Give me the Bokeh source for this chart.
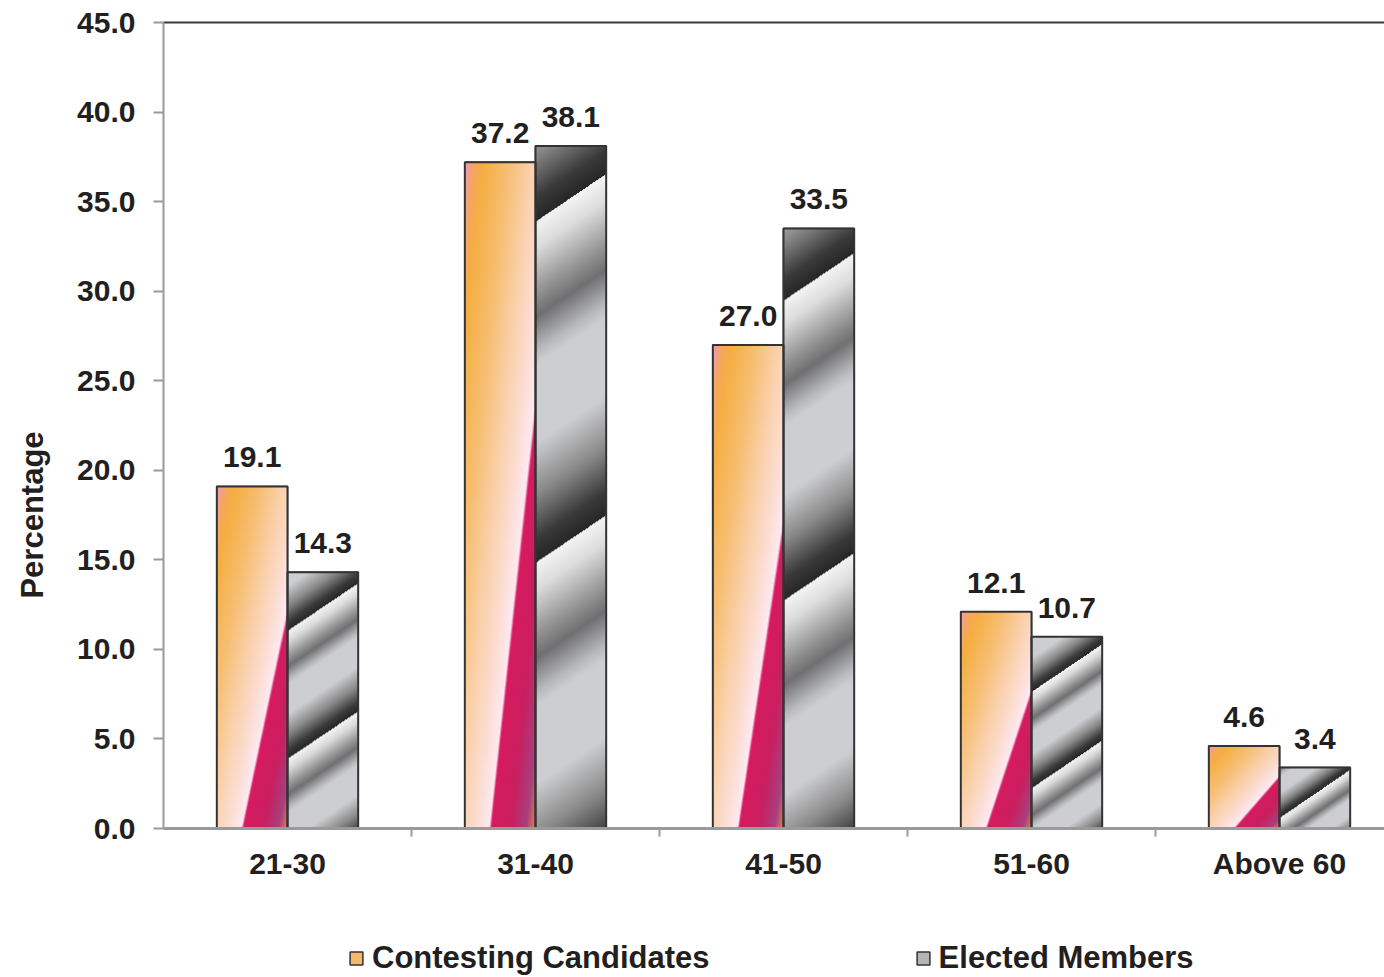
import numpy as np
from bokeh.plotting import figure
from bokeh.layouts import column, row
from bokeh.models import (Range1d, FixedTicker, NumeralTickFormatter, LinearAxis,
                          Legend, LegendItem, Label, ColumnDataSource)
from bokeh.core.properties import value
from bokeh.embed import file_html
from bokeh.resources import INLINE

# ---------------- data ----------------
categories = ["21-30", "31-40", "41-50", "51-60", "Above 60"]
contesting = [19.1, 37.2, 27.0, 12.1, 4.6]
elected = [14.3, 38.1, 33.5, 10.7, 3.4]
y_ticks = [0, 5, 10, 15, 20, 25, 30, 35, 40, 45]
series_names = ["Contesting Candidates", "Elected Members"]
y_title = "Percentage"

# ---------------- layout / style ----------------
FONT = "Liberation Sans"
TXT = "#231F20"
TOTAL_W, TOTAL_H = 1384, 977
TITLE_W = 60           # left strip holding the y title
LEG_H = 77             # bottom strip holding the legend
W, H = TOTAL_W - TITLE_W, TOTAL_H - LEG_H
ML, MR, MT = 163 - TITLE_W, 0, 22
MB = H - 828
frame_w = W - ML - MR
frame_h = H - MT - MB
cat_px = 248.0
x_end = frame_w / cat_px
y_max = 45.0
bar_w = 0.285

xc = np.arange(len(categories)) + 0.5

CONT_COLOR = "#F6B86C"
ELEC_COLOR = "#B4B5B8"
EDGE = "#333333"


def hex2rgb(h):
    return [int(h[i:i + 2], 16) for i in (1, 3, 5)]


def ramp(t, stops):
    pos = np.array([s[0] for s in stops])
    cols = np.array([hex2rgb(s[1]) for s in stops], float)
    out = np.empty(t.shape + (3,))
    for c in range(3):
        out[..., c] = np.interp(t, pos, cols[:, c])
    return out


def to_rgba(rgb):
    ny, nx, _ = rgb.shape
    img = np.empty((ny, nx), dtype=np.uint32)
    view = img.view(dtype=np.uint8).reshape((ny, nx, 4))
    view[..., :3] = np.clip(np.round(rgb), 0, 255).astype(np.uint8)
    view[..., 3] = 255
    return img


ORANGE_STOPS = [(0.0, "#F296C4"), (0.06, "#F4A664"), (0.13, "#F5AE42"),
                (0.30, "#F7BE72"), (0.45, "#FAD0A8"), (0.58, "#FCDDD2"),
                (0.67, "#FDEAF2"), (0.685, "#D81A60"), (0.82, "#C91F5F"),
                (0.93, "#A8407F"), (1.0, "#EC8C45")]

GREY_STOPS = [(0.0, "#F4F4F4"), (0.08, "#DCDCDC"), (0.22, "#8E8E8E"),
              (0.28, "#707072"), (0.38, "#B8B9BC"), (0.42, "#CDCED1"),
              (0.65, "#CDCED1"), (0.80, "#8A8A8A"), (0.93, "#3A3A3A"),
              (1.0, "#262626")]


def orange_img(v):
    nx = int(round(bar_w * cat_px))
    ny = max(2, int(round(v * frame_h / y_max)))
    u = (np.arange(nx) + 0.5) / nx
    vtop = 1 - (np.arange(ny) + 0.5) / ny
    t = (u[None, :] + vtop[:, None]) / 2
    return to_rgba(ramp(t, ORANGE_STOPS))


def grey_img(v):
    nx = int(round(bar_w * cat_px))
    ny = max(2, int(round(v * frame_h / y_max)))
    xp = np.arange(nx) + 0.5
    ytop = ny - (np.arange(ny) + 0.5)
    k = 0.68
    s = ytop[:, None] + k * (xp[None, :] - nx)
    P = max(0.5 * ny, 70.0)
    s0 = 0.04 * ny
    ph = np.mod((s - s0) / P, 1.0)
    return to_rgba(ramp(ph, GREY_STOPS))


# ================= main chart =================
p = figure(width=W, height=H, x_range=Range1d(0, x_end), y_range=Range1d(0, y_max),
           output_backend="svg", toolbar_location=None,
           min_border_left=ML, min_border_right=MR, min_border_top=MT, min_border_bottom=MB)
p.xgrid.visible = False
p.ygrid.visible = False
p.outline_line_color = None
p.background_fill_color = "white"
p.border_fill_color = "white"

p.vbar(x=xc - bar_w / 2, top=contesting, bottom=0, width=bar_w,
       fill_color=CONT_COLOR, line_color=EDGE, line_width=1.5)
p.vbar(x=xc + bar_w / 2, top=elected, bottom=0, width=bar_w,
       fill_color=ELEC_COLOR, line_color=EDGE, line_width=1.5)

# gradient fills
p.image_rgba(image=[orange_img(v) for v in contesting],
             x=list(xc - bar_w), y=[0] * len(contesting),
             dw=[bar_w] * len(contesting), dh=contesting)
p.image_rgba(image=[grey_img(v) for v in elected],
             x=list(xc), y=[0] * len(elected),
             dw=[bar_w] * len(elected), dh=elected)

# outlines
p.vbar(x=xc - bar_w / 2, top=contesting, bottom=0, width=bar_w,
       fill_color=None, line_color=EDGE, line_width=2)
p.vbar(x=xc + bar_w / 2, top=elected, bottom=0, width=bar_w,
       fill_color=None, line_color=EDGE, line_width=2)

# value labels
lab_src = ColumnDataSource(dict(
    x=list(xc - bar_w / 2) + list(xc + bar_w / 2),
    y=contesting + elected,
    t=["%.1f" % v for v in contesting + elected]))
p.text(x="x", y="y", text="t", source=lab_src, text_align="center",
       text_baseline="alphabetic", y_offset=-29,
       text_font=value(FONT), text_font_style="bold", text_font_size="30px",
       text_color=TXT)

# y axis
ya = p.yaxis[0]
ya.ticker = FixedTicker(ticks=y_ticks)
ya.formatter = NumeralTickFormatter(format="0.0")
ya.axis_line_color = "#9A9A9A"
ya.axis_line_width = 2
ya.major_tick_line_color = "#9A9A9A"
ya.major_tick_line_width = 2
ya.major_tick_out = 10
ya.major_tick_in = 0
ya.minor_tick_line_color = None
ya.major_label_standoff = 18
ya.major_label_text_font = FONT
ya.major_label_text_font_style = "bold"
ya.major_label_text_font_size = "30px"
ya.major_label_text_color = TXT

# x axis
xa = p.xaxis[0]
xa.ticker = FixedTicker(ticks=list(xc), minor_ticks=list(np.arange(1, len(categories))))
xa.major_label_overrides = {float(x): c for x, c in zip(xc, categories)}
xa.axis_line_color = "#9A9A9A"
xa.axis_line_width = 3
xa.major_tick_line_color = None
xa.major_tick_out = 0
xa.major_tick_in = 0
xa.minor_tick_line_color = "#9A9A9A"
xa.minor_tick_line_width = 2
xa.minor_tick_out = 8
xa.minor_tick_in = 0
xa.major_label_standoff = 10
xa.major_label_text_font = FONT
xa.major_label_text_font_style = "bold"
xa.major_label_text_font_size = "30px"
xa.major_label_text_color = TXT

# top border
top_ax = LinearAxis(ticker=FixedTicker(ticks=[]), major_label_text_font_size="0px",
                    axis_line_color="#3A3A3A", axis_line_width=2,
                    major_tick_out=0, major_tick_in=0, minor_tick_out=0, minor_tick_in=0)
p.add_layout(top_ax, "above")

# ================= y title strip =================
pt = figure(width=TITLE_W, height=H, x_range=Range1d(0, 1), y_range=Range1d(0, 1),
            output_backend="svg", toolbar_location=None, min_border=0,
            x_axis_type=None, y_axis_type=None)
pt.outline_line_color = None
pt.grid.visible = False
pt.add_layout(Label(x=32, y=H - 515.5 - 71, x_units="screen", y_units="screen", text=y_title,
                    angle=np.pi / 2, text_align="center", text_baseline="middle",
                    text_font=FONT, text_font_style="bold", text_font_size="31px",
                    text_color=TXT))

# ================= legend strip =================
# the legend renderers hold the series but are not drawn themselves
pl = figure(width=TOTAL_W, height=LEG_H, x_range=Range1d(0, x_end), y_range=Range1d(0, y_max),
            output_backend="svg", toolbar_location=None, min_border=0,
            x_axis_type=None, y_axis_type=None)
pl.outline_line_color = None
pl.grid.visible = False
lr1 = pl.vbar(x=xc - bar_w / 2, top=contesting, bottom=0, width=bar_w,
              fill_color=CONT_COLOR, line_color=EDGE, line_width=1.5)
lr2 = pl.vbar(x=xc + bar_w / 2, top=elected, bottom=0, width=bar_w,
              fill_color=ELEC_COLOR, line_color=EDGE, line_width=1.5)
lr1.visible = False
lr2.visible = False
legend = Legend(items=[LegendItem(label=series_names[0], renderers=[lr1]),
                       LegendItem(label=series_names[1], renderers=[lr2])],
                orientation="horizontal", location=(348, 1), click_policy="none",
                glyph_width=16, glyph_height=16, label_standoff=8, spacing=205,
                padding=0, margin=0, border_line_color=None, background_fill_alpha=0,
                label_text_font=FONT, label_text_font_style="bold",
                label_text_font_size="31px", label_text_color=TXT)
pl.add_layout(legend)

layout = column(row(pt, p, spacing=0), pl, spacing=0)
open("out.html", "w").write(file_html(layout, INLINE))
